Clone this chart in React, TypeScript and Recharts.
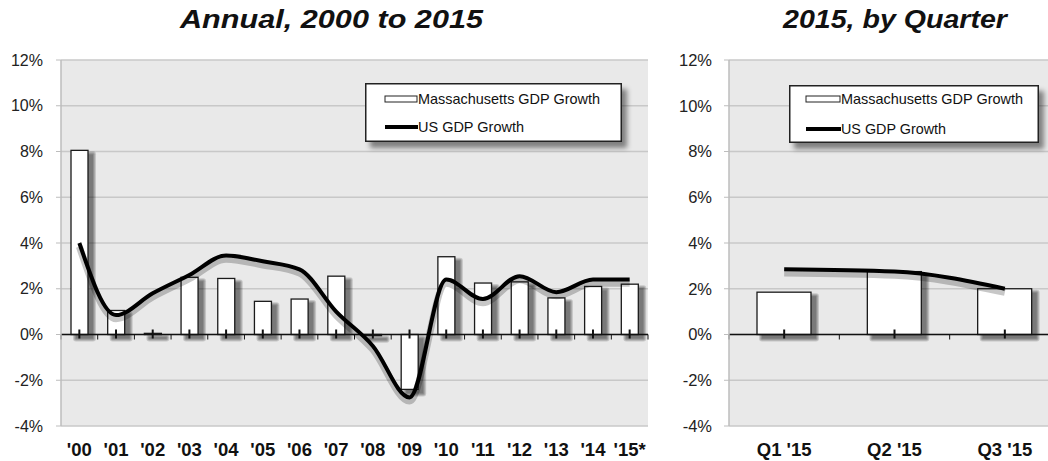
import { ComposedChart, Bar, Line, XAxis, YAxis, CartesianGrid, ReferenceLine, Legend } from "recharts";

const years = ["'00", "'01", "'02", "'03", "'04", "'05", "'06", "'07", "'08", "'09", "'10", "'11", "'12", "'13", "'14", "'15*"];
const maAnnual = [8.05, 1.05, 0.05, 2.5, 2.45, 1.45, 1.55, 2.55, -0.05, -2.4, 3.4, 2.25, 2.3, 1.6, 2.1, 2.2];
const usAnnual = [4.0, 0.85, 1.8, 2.6, 3.45, 3.2, 2.85, 1.0, -0.5, -2.75, 2.4, 1.55, 2.55, 1.85, 2.4, 2.4];

const quarters = ["Q1 '15", "Q2 '15", "Q3 '15"];
const maQuarterly = [1.85, 2.75, 2.0];
const usQuarterly = [2.85, 2.75, 2.0];

const yTicks = [-4, -2, 0, 2, 4, 6, 8, 10, 12];
const yDomain = [-4, 12];
// shadow copy of the US line is drawn against an axis nudged by this much
const shadowShift = 0.16;

const annualData = years.map((label, i) => ({ label, ma: maAnnual[i], us: usAnnual[i] }));
const quarterData = quarters.map((label, i) => ({ label, ma: maQuarterly[i], us: usQuarterly[i] }));

const FONT = '"Liberation Sans", Arial, sans-serif';

// white bar with a soft drop shadow made of stacked translucent rects
const ShadowBar = (props: any) => {
  const { x, y, width, height } = props;
  if (x == null || y == null) return null;
  const top = height < 0 ? y + height : y;
  const h = Math.max(Math.abs(height), 0.8);
  const layers = [0, 1, 2, 3];
  return (
    <g>
      {layers.map((k) => (
        <rect key={k} x={x + 5 - k} y={top + 4 - k} width={width + 2 * k} height={h + 2 * k} fill="#000" fillOpacity={0.15} rx={k} />
      ))}
      <rect x={x} y={top} width={width} height={h} fill="#fff" stroke="#1a1a1a" strokeWidth={1.3} />
    </g>
  );
};

// zero line with major ticks at the category centres and minor ticks at the boundaries
const zeroAxis = (count: number) => (props: any) => {
  const { x1, x2, y1 } = props;
  if (x1 == null || x2 == null) return null;
  const step = (x2 - x1) / count;
  const marks = [];
  for (let i = 0; i <= count; i++) {
    const bx = x1 + step * i;
    marks.push(<line key={"m" + i} x1={bx} x2={bx} y1={y1} y2={y1 + 5} stroke="#111" strokeWidth={1} />);
    if (i < count) {
      const cx = bx + step / 2;
      marks.push(<line key={"M" + i} x1={cx} x2={cx} y1={y1 - 5} y2={y1 + 4} stroke="#111" strokeWidth={2} />);
    }
  }
  return (
    <g>
      <line x1={x1} x2={x2} y1={y1} y2={y1} stroke="#111" strokeWidth={1.5} />
      {marks}
    </g>
  );
};

const LegendBox = ({ w, h, sx, tx, r1, r2, l1, l2 }: any) => (
  <div style={{ width: w, height: h, boxShadow: "5px 6px 5px rgba(0,0,0,0.45)" }}>
    <svg width={w} height={h} style={{ display: "block" }}>
      <rect x={0.75} y={0.75} width={w - 1.5} height={h - 1.5} fill="#fff" stroke="#222" strokeWidth={1.5} />
      <rect x={sx} y={r1 - 3} width={tx - sx - 1} height={6} fill="#fff" stroke="#222" strokeWidth={1} />
      <text x={tx} y={r1 + 5} fontSize={14.5} fontFamily={FONT} fill="#111" textLength={l1} lengthAdjust="spacingAndGlyphs">
        Massachusetts GDP Growth
      </text>
      <line x1={sx} x2={tx} y1={r2} y2={r2} stroke="#000" strokeWidth={4} />
      <text x={tx} y={r2 + 5} fontSize={14.5} fontFamily={FONT} fill="#111" textLength={l2} lengthAdjust="spacingAndGlyphs">
        US GDP Growth
      </text>
    </svg>
  </div>
);

const yTickStyle = { fontSize: 16, fill: "#222", fontFamily: FONT };
const xTickStyle = { fontSize: 18.5, fill: "#111", fontFamily: FONT, fontWeight: "bold" as const };

export default function App() {
  return (
    <div style={{ position: "absolute", left: 0, top: 0, width: 1048, height: 461, overflow: "hidden", background: "#fff" }}>
      <svg width={1048} height={40} style={{ position: "absolute", left: 0, top: 0 }}>
        <text x={180} y={28} fontSize={25} fontFamily={FONT} fontWeight="bold" fontStyle="italic" fill="#111" textLength={303} lengthAdjust="spacingAndGlyphs">
          Annual, 2000 to 2015
        </text>
        <text x={783} y={28} fontSize={25} fontFamily={FONT} fontWeight="bold" fontStyle="italic" fill="#111" textLength={224} lengthAdjust="spacingAndGlyphs">
          2015, by Quarter
        </text>
      </svg>

      <div style={{ position: "absolute", left: 0, top: 0 }}>
        <ComposedChart width={660} height={461} data={annualData} margin={{ top: 60, right: 12, bottom: 0, left: 0 }}>
          <CartesianGrid vertical={false} stroke="#c8c8c8" strokeWidth={1.5} fill="#e9e9e9" fillOpacity={1} />
          <XAxis dataKey="label" height={35} interval={0} tickLine={false} axisLine={false} tickMargin={11} tick={xTickStyle} />
          <YAxis width={61} domain={yDomain} ticks={yTicks} tickFormatter={(v) => `${v}%`} tickSize={5} tickMargin={13} tick={yTickStyle} axisLine={{ stroke: "#bdbdbd", strokeWidth: 1.5 }} tickLine={{ stroke: "#bdbdbd" }} />
          <YAxis yAxisId="border" orientation="right" width={0} domain={yDomain} tick={false} tickLine={false} axisLine={{ stroke: "#c8c8c8", strokeWidth: 1.5 }} />
          <YAxis yAxisId="shadow" hide domain={[yDomain[0] + shadowShift, yDomain[1] + shadowShift]} />
          <Legend layout="vertical" align="center" verticalAlign="middle" wrapperStyle={{ left: 365, top: 83, width: 257, height: 59 }} content={() => <LegendBox w={257} h={59} sx={20} tx={53} r1={16} r2={44} l1={182} l2={106} />} />
          <Bar dataKey="ma" barSize={17} shape={ShadowBar} isAnimationActive={false} />
          <ReferenceLine y={0} shape={zeroAxis(years.length)} />
          <Line yAxisId="shadow" type="monotone" dataKey="us" stroke="#000" strokeOpacity={0.22} strokeWidth={7} dot={false} activeDot={false} legendType="none" isAnimationActive={false} />
          <Line type="monotone" dataKey="us" stroke="#000" strokeWidth={4} dot={false} isAnimationActive={false} />
        </ComposedChart>
      </div>

      <div style={{ position: "absolute", left: 660, top: 0 }}>
        <ComposedChart width={400} height={461} data={quarterData} margin={{ top: 60, right: 0, bottom: 0, left: 0 }}>
          <CartesianGrid vertical={false} stroke="#c8c8c8" strokeWidth={1.5} fill="#e9e9e9" fillOpacity={1} />
          <XAxis dataKey="label" height={35} interval={0} tickLine={false} axisLine={false} tickMargin={11} tick={xTickStyle} />
          <YAxis width={69} domain={yDomain} ticks={yTicks} tickFormatter={(v) => `${v}%`} tickSize={5} tickMargin={12} tick={{ ...yTickStyle, fontSize: 16.5 }} axisLine={{ stroke: "#bdbdbd", strokeWidth: 1.5 }} tickLine={{ stroke: "#bdbdbd" }} />
          <YAxis yAxisId="shadow" hide domain={[yDomain[0] + shadowShift, yDomain[1] + shadowShift]} />
          <Legend layout="vertical" align="center" verticalAlign="middle" wrapperStyle={{ left: 129, top: 85, width: 250, height: 58 }} content={() => <LegendBox w={250} h={58} sx={17} tx={52} r1={14} r2={44} l1={182} l2={105} />} />
          <Bar dataKey="ma" barSize={54} shape={ShadowBar} isAnimationActive={false} />
          <ReferenceLine y={0} shape={zeroAxis(quarters.length)} />
          <Line yAxisId="shadow" type="monotone" dataKey="us" stroke="#000" strokeOpacity={0.22} strokeWidth={7} dot={false} activeDot={false} legendType="none" isAnimationActive={false} />
          <Line type="monotone" dataKey="us" stroke="#000" strokeWidth={4} dot={false} isAnimationActive={false} />
        </ComposedChart>
      </div>
    </div>
  );
}
